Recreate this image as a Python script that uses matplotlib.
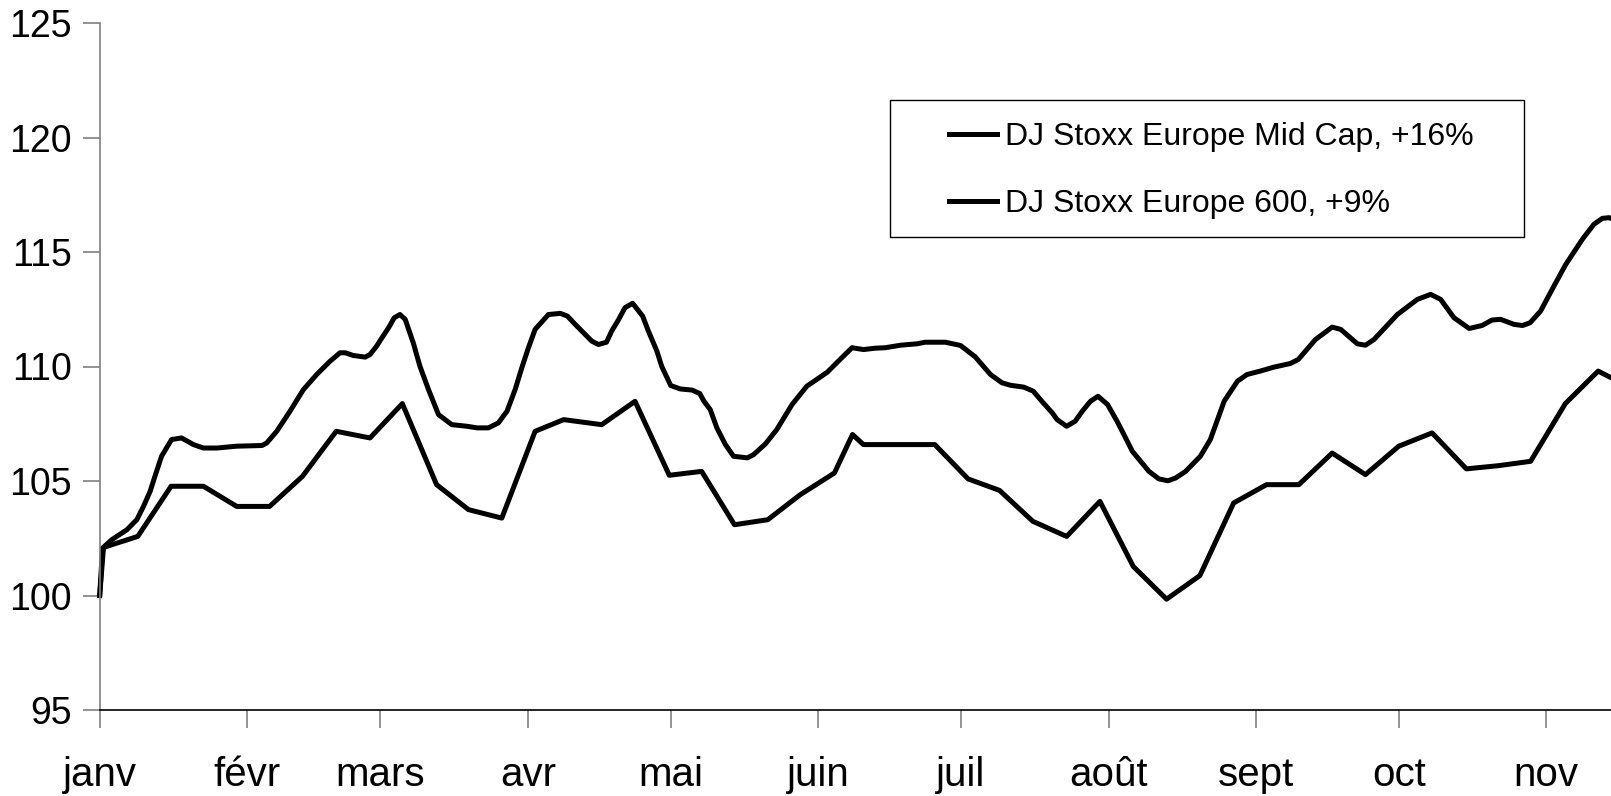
import matplotlib

matplotlib.use("Agg")
import matplotlib.pyplot as plt
from matplotlib.patches import Rectangle

plt.rcParams["font.family"] = ["Liberation Sans", "DejaVu Sans"]

# Jours depuis le 1er janvier, et niveau de l'indice (base 100)
MID_JOURS = [
    0, 0.6, 2.5, 5.7, 7.8, 9.2, 10.6, 11.6, 13.0, 15.1, 17.2, 19.7, 21.8, 24.6, 28.8,
    34.1, 35.1, 37.2, 40.0, 42.8, 45.6, 48.4, 50.5, 51.6, 53.3, 55.8, 56.8, 58.2, 59.3,
    60.7, 61.9, 63.1, 64.2, 65.9, 67.3, 69.1, 71.2, 74.0, 77.2, 79.3, 81.7, 83.8, 85.6,
    87.3, 88.7, 90.1, 91.5, 94.3, 96.8, 98.3, 99.6, 103.4, 104.8, 106.5, 107.6, 109.0,
    110.4, 112.0, 114.1, 115.3, 117.1, 118.1, 120.0, 122.0, 124.5, 126.1, 127.0, 128.3,
    129.7, 131.5, 133.2, 136.1, 137.4, 139.9, 142.3, 145.5, 148.6, 152.9, 155.6, 158.1,
    160.5, 163.0, 165.1, 168.3, 171.7, 173.5, 177.7, 180.9, 184.0, 187.2, 189.6, 191.4,
    194.2, 196.2, 198.0, 200.2, 201.2, 203.2, 205.0, 206.5, 208.2, 209.8, 211.8, 213.8,
    215.6, 217.0, 220.5, 222.6, 224.5, 226.1, 228.2, 231.3, 233.4, 236.3, 239.1, 241.1,
    243.9, 246.7, 250.2, 251.9, 255.5, 259.0, 260.8, 264.3, 266.0, 267.8, 272.7, 276.9,
    279.7, 281.8, 284.6, 287.8, 290.5, 292.6, 294.4, 297.2, 299.0, 300.6, 302.8, 305.6,
    308.1, 311.6, 314.0, 315.8, 317.2, 317.7,
]
MID_VALEURS = [
    100, 102.07, 102.43, 102.87, 103.31, 103.89, 104.55, 105.2, 106.08, 106.81, 106.88,
    106.59, 106.44, 106.44, 106.52, 106.55, 106.66, 107.17, 108.05, 108.99, 109.65,
    110.23, 110.6, 110.6, 110.48, 110.41, 110.52, 110.89, 111.25, 111.69, 112.13, 112.27,
    112.06, 111.03, 110.01, 108.99, 107.9, 107.46, 107.39, 107.32, 107.32, 107.54,
    108.05, 108.99, 109.94, 110.82, 111.62, 112.27, 112.32, 112.2, 111.91, 111.11,
    110.96, 111.06, 111.55, 112.03, 112.57, 112.76, 112.2, 111.55, 110.67, 110.01,
    109.17, 109.02, 108.97, 108.82, 108.48, 108.12, 107.32, 106.59, 106.08, 106.01,
    106.15, 106.62, 107.25, 108.34, 109.14, 109.75, 110.31, 110.82, 110.74, 110.8,
    110.82, 110.93, 110.99, 111.06, 111.06, 110.92, 110.42, 109.65, 109.29, 109.18,
    109.1, 108.92, 108.48, 107.97, 107.68, 107.39, 107.61, 108.05, 108.48, 108.7,
    108.34, 107.61, 106.88, 106.3, 105.42, 105.09, 105.01, 105.13, 105.42, 106.08,
    106.81, 108.48, 109.36, 109.65, 109.8, 109.97, 110.13, 110.31, 111.18, 111.72,
    111.62, 110.99, 110.93, 111.18, 112.27, 112.93, 113.15, 112.93, 112.13, 111.66,
    111.79, 112.03, 112.06, 111.84, 111.79, 111.91, 112.42, 113.51, 114.46, 115.56,
    116.21, 116.47, 116.5, 116.46,
]

S600_JOURS = [
    0, 0.8, 8, 15, 21.8, 28.8, 35.7, 42.6, 49.7, 56.8, 63.6, 70.8, 77.5, 84.5, 91.5,
    97.5, 105.5, 112.5, 119.7, 126.5, 133.4, 140.4, 147.2, 154.4, 158.2, 160.5, 175.5,
    182.5, 189.1, 196.1, 203.2, 210.2, 217.2, 224.2, 231.2, 238.3, 245.2, 252.0, 259.0,
    266.0, 273.0, 280.0, 287.2, 294.0, 300.7, 308.0, 314.9, 317.7,
]
S600_VALEURS = [
    100, 102.1, 102.58, 104.77, 104.77, 103.89, 103.89, 105.2, 107.17, 106.88, 108.38,
    104.84, 103.75, 103.38, 107.17, 107.68, 107.46, 108.48, 105.25, 105.42, 103.09,
    103.31, 104.4, 105.35, 107.03, 106.59, 106.59, 105.09, 104.59, 103.24, 102.58,
    104.11, 101.27, 99.84, 100.87, 104.04, 104.84, 104.84, 106.22, 105.28, 106.52,
    107.10, 105.53, 105.67, 105.86, 108.38, 109.80, 109.5,
]

MOIS = ["janv", "févr", "mars", "avr", "mai", "juin", "juil", "août", "sept", "oct", "nov"]
MOIS_JOURS = [0, 31, 59, 90, 120, 151, 181, 212, 243, 273, 304]

ETIQUETTES = ["DJ Stoxx Europe Mid Cap, +16%", "DJ Stoxx Europe 600, +9%"]

fig = plt.figure(figsize=(16.11, 7.96), dpi=100)
ax = fig.add_axes([99.7 / 1611, 86 / 796, (1611 - 99.7) / 1611, 687 / 796])

ax.plot(MID_JOURS, MID_VALEURS, color="black", lw=3.6, solid_joinstyle="round",
        label=ETIQUETTES[0], clip_on=False)
ax.plot(S600_JOURS, S600_VALEURS, color="black", lw=3.6, solid_joinstyle="round",
        label=ETIQUETTES[1], clip_on=False)

ax.set_xlim(0, 317.6)
ax.set_ylim(95, 125)
ax.set_yticks(range(95, 126, 5))
ax.set_xticks(MOIS_JOURS)
ax.set_xticklabels(MOIS)

for cote in ["top", "right"]:
    ax.spines[cote].set_visible(False)
ax.spines["left"].set_color("#808080")
ax.spines["left"].set_linewidth(1.2)
ax.spines["bottom"].set_color("black")
ax.spines["bottom"].set_linewidth(1.2)

ax.tick_params(axis="y", direction="out", length=12, width=1.2, color="#808080",
               labelsize=27, pad=8)
ax.tick_params(axis="x", direction="out", length=13, width=1.2, color="#808080",
               labelsize=29, pad=20)

# Legende sans cadre, le cadre est dessine a part
leg = ax.legend(loc="upper left", bbox_to_anchor=(949 / 1611, 1 - 122 / 796),
                bbox_transform=fig.transFigure, frameon=False, fontsize=23,
                handlelength=1.5, handletextpad=0.25, labelspacing=1.17,
                borderpad=0, borderaxespad=0)
fig.patches.append(Rectangle((890 / 1611, 1 - 237 / 796), 634 / 1611, 137 / 796,
                             transform=fig.transFigure, fill=False,
                             edgecolor="black", linewidth=1.0))

fig.savefig("out.png", dpi=100)
